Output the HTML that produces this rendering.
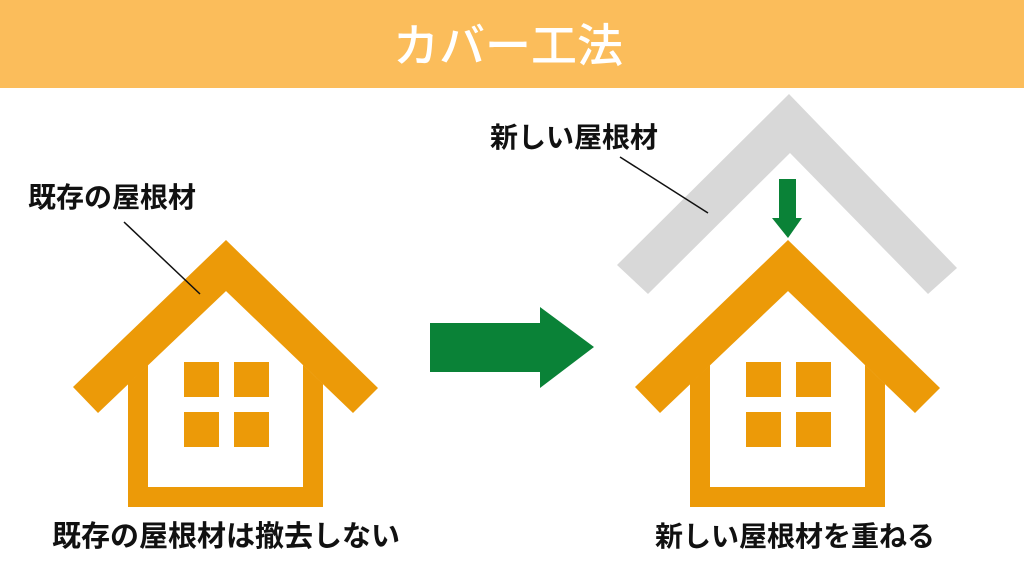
<!DOCTYPE html>
<html><head><meta charset="utf-8"><style>
body{margin:0;width:1024px;height:576px;background:#fff;overflow:hidden;font-family:"Liberation Sans","Noto Sans CJK JP",sans-serif}
</style></head><body>
<svg width="1024" height="576" viewBox="0 0 1024 576" xmlns="http://www.w3.org/2000/svg" style="position:absolute;left:0;top:0">
<rect x="0" y="0" width="1024" height="88" fill="#FBBD5B"/>
<text x="508" y="62" text-anchor="middle" font-size="46" font-weight="500" fill="#fff" font-family="Noto Sans CJK JP,sans-serif">カバー工法</text>
<g id="h" fill="#EC9A08">
<polygon points="128,384 226,291 323,384 323,507 128,507"/>
<polygon points="148,365 226,291 303,365 303,487 148,487" fill="#fff"/>
<polygon points="73,387 226,240 378,388 353,413 226,291 98,413"/>
<rect x="184" y="362" width="35" height="35"/><rect x="234" y="362" width="35" height="35"/>
<rect x="184" y="412" width="35" height="35"/><rect x="234" y="412" width="35" height="35"/>
</g>
<use href="#h" transform="translate(562,0)"/>
<polygon points="617,265 789,94 957,268 928,294 790,153 648,294" fill="#D8D8D8"/>
<polygon points="779,179 796,179 796,218 802,218 788,238 772,218 779,218" fill="#0A8237"/>
<polygon points="430,323 540,323 540,307 594,347 540,388 540,372 430,372" fill="#0A8237"/>
<line x1="124" y1="222" x2="200" y2="294" stroke="#111" stroke-width="1.5"/>
<line x1="620" y1="157" x2="708" y2="213" stroke="#111" stroke-width="1.5"/>
<g font-size="28" font-weight="bold" fill="#111" font-family="Noto Sans CJK JP,sans-serif">
<text x="28" y="207">既存の屋根材</text>
<text x="490" y="147">新しい屋根材</text>
</g>
<g font-weight="bold" fill="#111" font-family="Noto Sans CJK JP,sans-serif">
<text x="52" y="546" font-size="29">既存の屋根材は撤去しない</text>
<text x="655" y="546" font-size="28">新しい屋根材を重ねる</text>
</g>
</svg>
</body></html>
